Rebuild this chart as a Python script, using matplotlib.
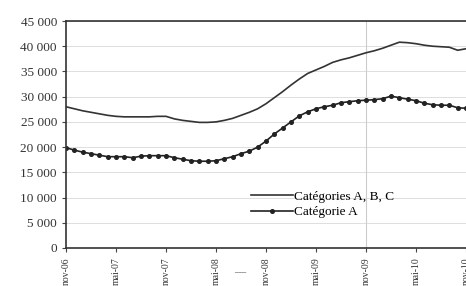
import matplotlib.pyplot as plt

plt.rcParams['font.family'] = ['Liberation Serif', 'DejaVu Serif']

# monthly values, nov-06 .. nov-10
mois = ['nov-06', 'mai-07', 'nov-07', 'mai-08', 'nov-08', 'mai-09', 'nov-09', 'mai-10', 'nov-10']
cat_abc = [28000, 27600, 27200, 26900, 26600, 26300, 26100, 26000, 26000, 26000,
           26000, 26100, 26100, 25600, 25300, 25100, 24900, 24900, 25000, 25300,
           25700, 26300, 26900, 27600, 28600, 29800, 31000, 32300, 33500, 34600,
           35300, 36000, 36800, 37300, 37700, 38200, 38700, 39100, 39600, 40200,
           40800, 40700, 40500, 40200, 40000, 39900, 39800, 39200, 39500]
cat_a = [19900, 19400, 19000, 18700, 18400, 18100, 18100, 18100, 17900, 18200,
         18300, 18300, 18300, 17900, 17600, 17300, 17200, 17200, 17300, 17700,
         18100, 18700, 19200, 20000, 21200, 22600, 23800, 25000, 26200, 27000,
         27600, 28000, 28300, 28800, 29000, 29200, 29300, 29400, 29600, 30100,
         29800, 29500, 29200, 28700, 28400, 28300, 28300, 27800, 27700]
yticks = [0, 5000, 10000, 15000, 20000, 25000, 30000, 35000, 40000, 45000]

x = list(range(len(cat_abc)))

fig = plt.figure(figsize=(4.66, 2.86), dpi=100)
ax = fig.add_axes([66/466, 38/286, 1 - 66/466, 227/286])

for v in yticks[1:]:
    ax.axhline(v, color='#dddddd', lw=0.7, zorder=0)
ax.axvline(36, color='#cccccc', lw=0.8, zorder=0)

ax.plot(x, cat_abc, color='#333333', lw=1.2, label='Catégories A, B, C')
ax.plot(x, cat_a, color='#222222', lw=1.2, marker='o', ms=2.6, label='Catégorie A')

ax.set_xlim(0, 48)
ax.set_ylim(0, 45000)
ax.set_yticks(yticks)
ax.set_yticklabels([f'{v:,}'.replace(',', ' ') for v in yticks], fontsize=9.5, color='#333333')
ax.set_xticks(range(0, 49, 6))
ax.set_xticklabels(mois, rotation=90, fontsize=7, color='#333333')
ax.tick_params(axis='both', length=3, width=0.8, color='#444444')

for s in ['left', 'bottom', 'top']:
    ax.spines[s].set_linewidth(1.2)
    ax.spines[s].set_color('#333333')
ax.spines['right'].set_visible(False)

ax.legend(loc='upper left', bbox_to_anchor=(244/466, 1 - 184/286), bbox_transform=fig.transFigure,
          frameon=False, fontsize=9.5, handlelength=3.2, handletextpad=0.1,
          labelspacing=0.25, borderpad=0)

fig.text(240/466, 1 - 273/286, '—', fontsize=8, color='#555555', ha='center', va='center')

fig.savefig('out.png', dpi=100)
